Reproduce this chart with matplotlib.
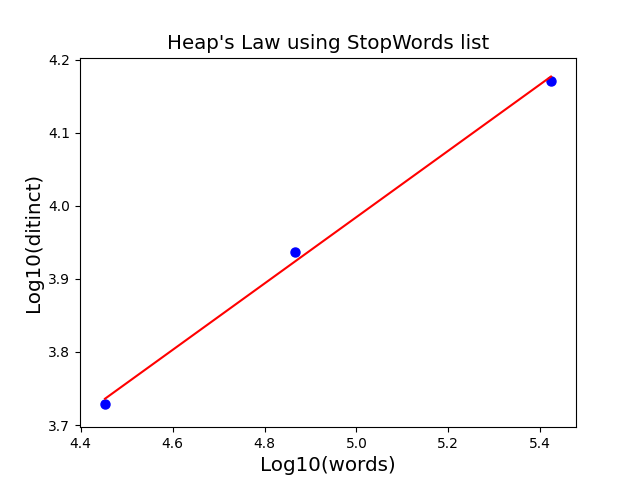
import numpy as np
import matplotlib
matplotlib.use("Agg")
import matplotlib.pyplot as plt

log_words = [4.4529, 4.8663, 5.4233]
log_distinct = [3.7283, 3.9372, 4.1713]

x = np.array(log_words)
y = np.array(log_distinct)
coef = np.polyfit(x, y, 1)
fit = np.poly1d(coef)

fig, ax = plt.subplots(figsize=(6.4, 4.8), dpi=100)
ax.plot(x, y, 'bo', markersize=6.5)
ax.plot(x, fit(x), 'r-')
ax.set_xlim(4.3985, 5.4777)
ax.set_ylim(3.697, 4.2029)
ax.set_title("Heap's Law using StopWords list", fontsize=14.3)
ax.set_xlabel("Log10(words)", fontsize=14.3)
ax.set_ylabel("Log10(ditinct)", fontsize=14.3)
fig.savefig("out.png", dpi=100)
